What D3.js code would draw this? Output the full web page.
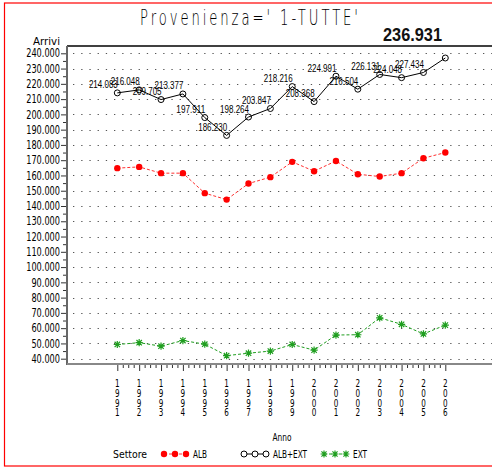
<!DOCTYPE html>
<html>
<head>
<meta charset="utf-8">
<script src="https://cdn.jsdelivr.net/npm/d3@7/dist/d3.min.js"></script>
<style>
  html, body { margin: 0; padding: 0; background: #fff; }
  svg { display: block; }
  text { font-family: "DejaVu Sans Condensed", "DejaVu Sans", sans-serif; }
</style>
</head>
<body>
<svg id="chart" width="492" height="470"></svg>
<script>
// ---------- data ----------
const years = [1991, 1992, 1993, 1994, 1995, 1996, 1997, 1998, 1999, 2000, 2001, 2002, 2003, 2004, 2005, 2006];
const albExt = [214.083, 216.048, 209.705, 213.377, 197.911, 186.230, 198.264, 203.847, 218.216, 208.368, 224.991, 216.504, 226.131, 224.048, 227.434, 236.931];
const alb = [164.8, 165.6, 161.5, 161.5, 148.4, 144.2, 154.7, 158.9, 168.9, 162.8, 169.5, 160.8, 159.3, 161.5, 171.3, 175.0];
const ext = [49.3, 50.5, 48.2, 51.9, 49.5, 42.0, 43.6, 45.0, 49.3, 45.6, 55.5, 55.7, 66.8, 62.5, 56.2, 62.0];
const yTicks = [40, 50, 60, 70, 80, 90, 100, 110, 120, 130, 140, 150, 160, 170, 180, 190, 200, 210, 220, 230, 240];
const seriesNames = ["ALB", "ALB+EXT", "EXT"];
const titleText = "Provenienza=' 1-TUTTE'";
const yTitle = "Arrivi";
const xTitle = "Anno";
const legendTitle = "Settore";

// ---------- layout ----------
const svg = d3.select("#chart");
const pL = 67, pR = 500, pT = 46, pB = 364;
const x = d3.scaleLinear().domain([1991, 2006]).range([117.3, 445.3]);
const y = d3.scaleLinear().domain([40, 240]).range([358.7, 53.3]);
const fmt = d3.format(".3f");

function numWidth(s, dw, pw) {
  let w = 0;
  for (const c of s) w += (c === "." ? pw : dw);
  return w;
}
function fit(sel, w) {
  return sel.attr("textLength", w).attr("lengthAdjust", "spacingAndGlyphs");
}

// outer red border
svg.append("rect").attr("x", 4.5).attr("y", 3).attr("width", 600).attr("height", 463)
  .attr("fill", "none").attr("stroke", "#ff0000").attr("stroke-width", 1.2);

// title: narrow glyphs, wide spacing
const tScale = 0.6;
svg.append("g").attr("transform", `translate(140,25) scale(${tScale},1)`)
  .append("text").attr("x", 0).attr("y", 0)
  .attr("textLength", 218 / tScale).attr("lengthAdjust", "spacing")
  .attr("font-size", 22).attr("fill", "#000")
  .style("font-family", '"DejaVu Sans ExtraLight", "DejaVu Sans Light", "DejaVu Sans", sans-serif')
  .style("font-weight", "200")
  .text(titleText);

// grid (dotted)
svg.append("g").selectAll("line").data(yTicks).join("line")
  .attr("x1", pL + 6).attr("x2", pR)
  .attr("y1", d => Math.round(y(d)) + 0.5).attr("y2", d => Math.round(y(d)) + 0.5)
  .attr("stroke", "#555").attr("stroke-width", 1.2)
  .attr("stroke-dasharray", "1.3,6.9");

// frame lines
svg.append("line").attr("x1", pL).attr("x2", pR).attr("y1", pT).attr("y2", pT)
  .attr("stroke", "#000").attr("stroke-width", 1.3);
svg.append("line").attr("x1", pL).attr("x2", pL).attr("y1", pT).attr("y2", pB + 1)
  .attr("stroke", "#666").attr("stroke-width", 2);
svg.append("line").attr("x1", pL).attr("x2", pR).attr("y1", pB).attr("y2", pB)
  .attr("stroke", "#888").attr("stroke-width", 2);

// y axis
const yAxis = svg.append("g").attr("transform", `translate(${pL - 1},0)`)
  .call(d3.axisLeft(y).tickValues(yTicks).tickFormat(fmt).tickSize(5).tickPadding(1));
yAxis.select(".domain").remove();
yAxis.selectAll("line").attr("stroke", "#333");
yAxis.selectAll("text").attr("font-size", 11.5).attr("fill", "#000")
  .style("font-family", '"DejaVu Sans Condensed", "DejaVu Sans", sans-serif')
  .each(function(d) { fit(d3.select(this), numWidth(fmt(d), 5.2, 2.6)); });
const yMinor = yTicks.slice(0, -1).map(d => d + 5);
const yAxisMinor = svg.append("g").attr("transform", `translate(${pL - 1},0)`)
  .call(d3.axisLeft(y).tickValues(yMinor).tickFormat("").tickSize(3));
yAxisMinor.select(".domain").remove();
yAxisMinor.selectAll("line").attr("stroke", "#333");

fit(svg.append("text").attr("x", 33).attr("y", 45)
  .attr("font-size", 10.5).attr("fill", "#000").text(yTitle), 27);

// x axis
const xAxis = svg.append("g").attr("transform", `translate(0,${pB + 1})`)
  .call(d3.axisBottom(x).tickValues(years).tickFormat("").tickSize(6));
xAxis.select(".domain").remove();
xAxis.selectAll("line").attr("stroke", "#333");
const xMinor = years.slice(0, -1).flatMap(d => [d + 0.25, d + 0.5, d + 0.75]);
const xAxisMinor = svg.append("g").attr("transform", `translate(0,${pB + 1})`)
  .call(d3.axisBottom(x).tickValues(xMinor).tickFormat("").tickSize(3));
xAxisMinor.select(".domain").remove();
xAxisMinor.selectAll("line").attr("stroke", "#333");

// vertical year labels (stacked digits)
const yg = svg.append("g");
years.forEach(d => {
  String(d).split("").forEach((c, i) => {
    fit(yg.append("text").attr("x", x(d) - 2.3).attr("y", 387 + i * 9.8)
      .attr("font-size", 10).attr("fill", "#000").text(c), 4.6);
  });
});

fit(svg.append("text").attr("x", 272.5).attr("y", 441)
  .attr("font-size", 10.5).attr("fill", "#000").text(xTitle), 19);

// ---------- series ----------
const line = d3.line().x((d, i) => x(years[i])).y(d => y(d));

function star(g, cx, cy, r, color) {
  g.append("path")
    .attr("d", `M${cx - r},${cy}L${cx + r},${cy}M${cx},${cy - r}L${cx},${cy + r}` +
      `M${cx - r * 0.75},${cy - r * 0.75}L${cx + r * 0.75},${cy + r * 0.75}` +
      `M${cx - r * 0.75},${cy + r * 0.75}L${cx + r * 0.75},${cy - r * 0.75}`)
    .attr("stroke", color).attr("stroke-width", 1.2).attr("fill", "none");
}

const green = "#1f9e1f", red = "#ff0000";

// EXT
svg.append("path").datum(ext).attr("d", line).attr("fill", "none")
  .attr("stroke", green).attr("stroke-width", 1).attr("stroke-dasharray", "3,2");
const gExt = svg.append("g");
ext.forEach((v, i) => star(gExt, x(years[i]), y(v), 3.6, green));

// ALB
svg.append("path").datum(alb).attr("d", line).attr("fill", "none")
  .attr("stroke", "#ff3030").attr("stroke-width", 1).attr("stroke-dasharray", "3,2");
svg.append("g").selectAll("circle").data(alb).join("circle")
  .attr("cx", (d, i) => x(years[i])).attr("cy", d => y(d)).attr("r", 3.2)
  .attr("fill", red);

// ALB+EXT
svg.append("path").datum(albExt).attr("d", line).attr("fill", "none")
  .attr("stroke", "#000").attr("stroke-width", 1);
svg.append("g").selectAll("circle").data(albExt).join("circle")
  .attr("cx", (d, i) => x(years[i])).attr("cy", d => y(d)).attr("r", 3)
  .attr("fill", "none").attr("stroke", "#000").attr("stroke-width", 1);

// value labels for ALB+EXT (last one shown large above)
const last = albExt.length - 1;
svg.append("g").selectAll("text").data(albExt.slice(0, last)).join("text")
  .attr("x", (d, i) => x(years[i]) + 0.5).attr("y", d => y(d) - 4.5)
  .attr("text-anchor", "end").attr("font-size", 10).attr("fill", "#000")
  .style("font-family", '"Liberation Sans", Arial, sans-serif')
  .each(function(d) { fit(d3.select(this), numWidth(fmt(d), 4.4, 2.5)); })
  .text(d => fmt(d));
svg.append("text").attr("x", 383).attr("y", 41)
  .attr("textLength", 59).attr("lengthAdjust", "spacingAndGlyphs")
  .attr("font-size", 18).attr("font-weight", "bold").attr("fill", "#111")
  .style("font-family", '"Liberation Sans", Arial, sans-serif')
  .text(fmt(albExt[last]));

// ---------- legend ----------
const ly = 454;
fit(svg.append("text").attr("x", 113).attr("y", ly + 4).attr("font-size", 10.5).attr("fill", "#000")
  .text(legendTitle), 34);
const legendX = [164, 244, 324];
const legendTextW = [14, 34, 14];
const legendColors = [red, "#000", green];
seriesNames.forEach((name, k) => {
  const x0 = legendX[k];
  const g = svg.append("g");
  g.append("line").attr("x1", x0).attr("x2", x0 + 22).attr("y1", ly).attr("y2", ly)
    .attr("stroke", k === 0 ? "#ff3030" : legendColors[k]).attr("stroke-width", 1)
    .attr("stroke-dasharray", k === 1 ? null : "3,2");
  [0, 11, 22].forEach(dx => {
    if (k === 0) g.append("circle").attr("cx", x0 + dx).attr("cy", ly).attr("r", 3.2).attr("fill", red);
    else if (k === 1) g.append("circle").attr("cx", x0 + dx).attr("cy", ly).attr("r", 3)
      .attr("fill", "#fff").attr("stroke", "#000");
    else star(g, x0 + dx, ly, 3.4, green);
  });
  fit(g.append("text").attr("x", x0 + 29).attr("y", ly + 4).attr("font-size", 10.5).attr("fill", "#000")
    .text(name), legendTextW[k]);
});
</script>
</body>
</html>
